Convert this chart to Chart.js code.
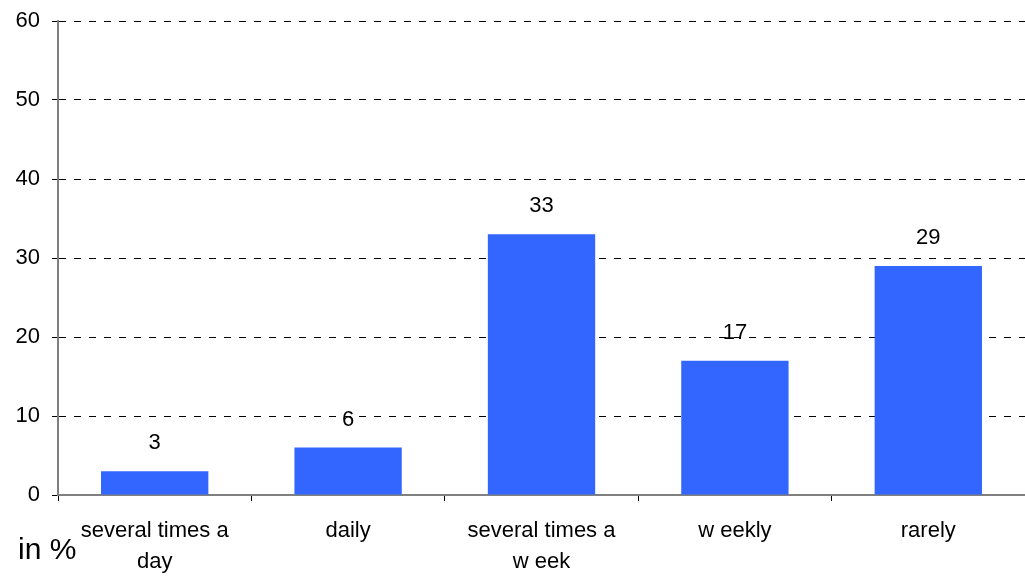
<!DOCTYPE html>
<html>
<head>
<meta charset="utf-8">
<script src="https://cdn.jsdelivr.net/npm/chart.js@4/dist/chart.umd.min.js"></script>
<style>
  html, body { margin: 0; padding: 0; background: #fff; }
  #wrap { width: 1025px; height: 576px; position: relative; }
</style>
</head>
<body>
<div id="wrap"><canvas id="chart"></canvas></div>
<script>
const categories = [
    ['several times a', 'day'],
    'daily',
    ['several times a', 'w eek'],
    'w eekly',
    'rarely'
];
const shares = [3, 6, 33, 17, 29];
const yTicks = [0, 10, 20, 30, 40, 50, 60];

const FONT = 'Arial, "Liberation Sans", sans-serif';

// value above each bar + the unit note in the lower left corner
const labelsPlugin = {
    id: 'barLabels',
    afterDatasetsDraw(chart) {
        const ctx = chart.ctx;
        const meta = chart.getDatasetMeta(0);
        ctx.save();
        ctx.fillStyle = '#000';
        ctx.font = '22px ' + FONT;
        ctx.textAlign = 'center';
        ctx.textBaseline = 'middle';
        meta.data.forEach((bar, i) => {
            ctx.fillText(String(shares[i]), bar.x, bar.y - 28);
        });
        ctx.font = '30px ' + FONT;
        ctx.textAlign = 'left';
        ctx.fillText('in %', 18, 551);
        ctx.restore();
    }
};

const ctx = document.getElementById('chart').getContext('2d');
const chart = new Chart(ctx, {
    type: 'bar',
    data: {
        labels: categories,
        datasets: [{
            data: shares,
            backgroundColor: '#3366FF',
            borderWidth: 0,
            barPercentage: 0.555,
            categoryPercentage: 1
        }]
    },
    options: {
        responsive: true,
        maintainAspectRatio: false,
        animation: false,
        layout: { padding: { top: 21, right: 0, left: 0, bottom: 0 } },
        plugins: {
            legend: { display: false },
            tooltip: { enabled: false }
        },
        scales: {
            x: {
                offset: true,
                grid: {
                    offset: true,
                    drawOnChartArea: false,
                    drawTicks: true,
                    tickLength: 6,
                    tickColor: '#000'
                },
                border: { color: '#808080', width: 2 },
                ticks: {
                    color: '#000',
                    font: { family: FONT, size: 22, lineHeight: 1.42 },
                    padding: 14,
                    maxRotation: 0,
                    autoSkip: false
                },
                afterFit(scale) { scale.height = 81; }
            },
            y: {
                min: 0,
                max: 60,
                afterBuildTicks(scale) {
                    scale.ticks = yTicks.map(v => ({ value: v }));
                },
                grid: {
                    color: '#000',
                    lineWidth: 1,
                    tickBorderDash: [],
                    tickLength: 6,
                    tickColor: '#000'
                },
                border: { color: '#808080', width: 2, dash: [7, 8] },
                ticks: {
                    color: '#000',
                    font: { family: FONT, size: 22, lineHeight: 0.8 },
                    padding: 12
                },
                afterFit(scale) { scale.width = 58; }
            }
        }
    },
    plugins: [labelsPlugin]
});
</script>
</body>
</html>
